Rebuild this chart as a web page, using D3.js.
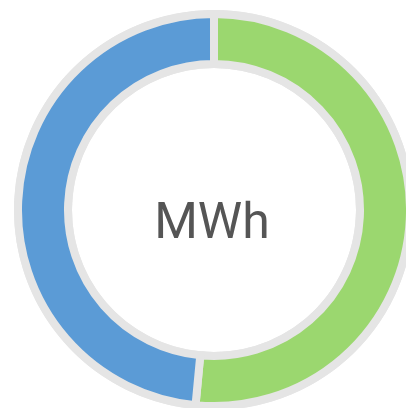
<!DOCTYPE html>
<html><head><meta charset="utf-8">
<script src="https://cdn.jsdelivr.net/npm/d3@7"></script>
<style>html,body{margin:0;padding:0;background:#fff;}svg{display:block;}</style>
</head><body>
<svg id="c" width="406" height="408"></svg>
<script>
const categories = ["Green", "Blue"];
const values = [51.5, 48.5];
const colors = ["#9bd76f", "#5b9bd6"];
const centerLabel = "MWh";

const svg = d3.select("#c");
const cx = 214, cy = 210;
const g = svg.append("g").attr("transform", `translate(${cx},${cy})`);

g.append("path")
  .attr("d", d3.arc().innerRadius(142).outerRadius(200).startAngle(0).endAngle(2*Math.PI)())
  .attr("fill", "#e5e5e5");

const pie = d3.pie().sort(null).value(d => d.v);
const arcs = pie(categories.map((c,i)=>({c, v: values[i]})));
const arc = d3.arc().innerRadius(146).outerRadius(196);

g.selectAll("path.s").data(arcs).join("path")
  .attr("class","s")
  .attr("d", arc)
  .attr("fill", (d,i)=>colors[i])
  .attr("stroke", "#e5e5e5")
  .attr("stroke-width", 8)
  .attr("stroke-linejoin", "miter");

g.append("text")
  .attr("x", -2).attr("y", 28)
  .attr("text-anchor", "middle")
  .attr("font-family", "Roboto, sans-serif")
  .attr("font-size", 50)
  .attr("fill", "#555555")
  .text(centerLabel);
</script>
</body></html>
